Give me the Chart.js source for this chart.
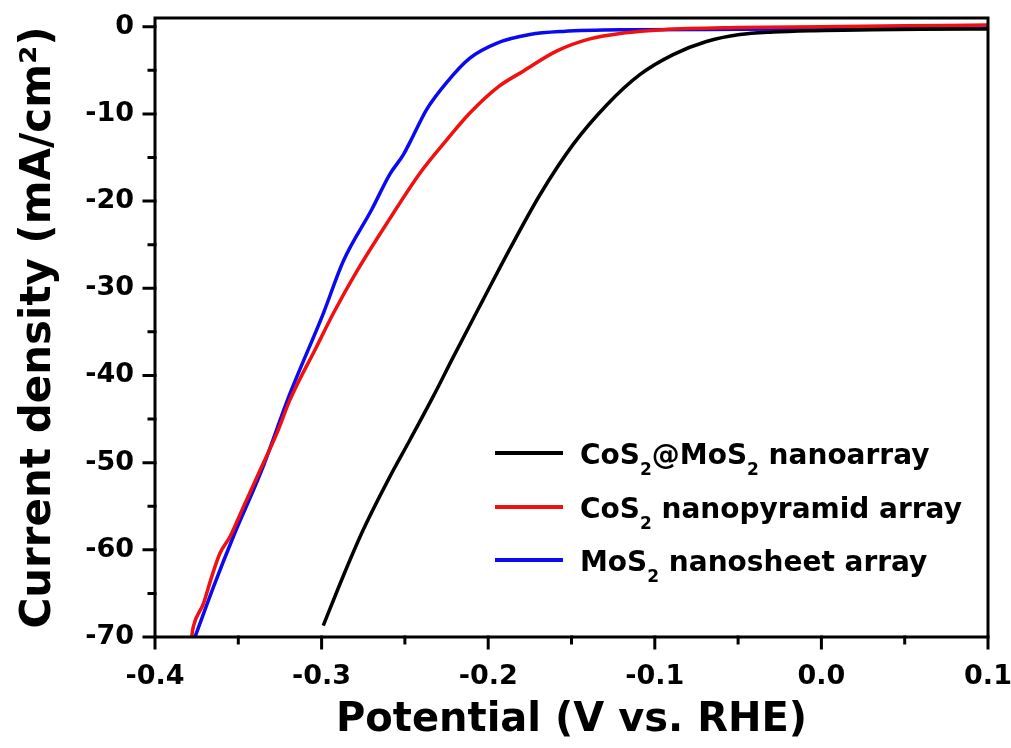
<!DOCTYPE html>
<html>
<head>
<meta charset="utf-8">
<script src="https://cdn.jsdelivr.net/npm/chart.js@4.4.1/dist/chart.umd.min.js"></script>
<style>
  body { margin: 0; background: #fff; }
</style>
</head>
<body>
<canvas id="lsv" width="1011" height="748"></canvas>
<script>
// series names (₂ is drawn as a subscript by the legend plugin)
const seriesNames = ['CoS₂@MoS₂ nanoarray', 'CoS₂ nanopyramid array', 'MoS₂ nanosheet array'];
const seriesColors = ['#000000', '#f01010', '#0a0af0'];

// CoS2@MoS2 nanoarray
const potentialCoMo = [-0.299, -0.287, -0.275, -0.259, -0.247, -0.233, -0.221, -0.203, -0.189, -0.169,
    -0.149, -0.129, -0.109, -0.089, -0.069, -0.049, -0.029, -0.007, 0.03, 0.06, 0.1];
const currentCoMo = [-68.7, -63.0, -57.7, -51.6, -47.4, -42.4, -37.9, -31.3, -26.2, -19.3,
    -13.5, -9.0, -5.5, -3.2, -1.7, -0.9, -0.6, -0.45, -0.35, -0.3, -0.25];

// CoS2 nanopyramid array
const potentialCo = [-0.378, -0.377, -0.371, -0.366, -0.361, -0.355, -0.347, -0.337, -0.327, -0.319,
    -0.303, -0.293, -0.279, -0.259, -0.241, -0.225, -0.211, -0.194, -0.179, -0.159,
    -0.139, -0.119, -0.095, -0.05, 0.0, 0.05, 0.1];
const currentCo = [-70, -68.8, -66.2, -63.1, -60.4, -58.5, -55.1, -50.9, -46.7, -42.8,
    -36.7, -32.9, -28.1, -22.0, -16.8, -13.0, -9.9, -6.9, -5.1, -2.8,
    -1.4, -0.73, -0.34, -0.1, 0.0, 0.1, 0.2];

// MoS2 nanosheet array
const potentialMo = [-0.376, -0.365, -0.353, -0.336, -0.319, -0.299, -0.287, -0.270, -0.259, -0.251,
    -0.245, -0.237, -0.225, -0.211, -0.195, -0.175, -0.155, -0.115, -0.05, 0.0, 0.1];
const currentMo = [-70, -64.3, -58.5, -50.9, -42.1, -32.9, -26.9, -21.0, -16.9, -14.7,
    -12.5, -9.5, -6.4, -3.6, -1.9, -0.9, -0.54, -0.35, -0.3, -0.25, -0.15];

const xMin = -0.4, xMax = 0.1, xStep = 0.05;
const yMin = -70, yMax = 1, yStep = 5;
const xTitle = 'Potential (V vs. RHE)';
const yTitle = 'Current density (mA/cm²)';

function toPoints(xs, ys) {
    return xs.map((x, i) => ({ x: x, y: ys[i] }));
}

const FONT = '"DejaVu Sans", "Liberation Sans", Arial, sans-serif';
Chart.defaults.font.family = FONT;
Chart.defaults.color = '#000';

function isMajorX(v) { return Math.abs(v * 10 - Math.round(v * 10)) < 1e-6; }
function isMajorY(v) { return Math.abs(v % 10) < 1e-6; }

// frame + outward major/minor ticks
const framePlugin = {
    id: 'frame',
    afterDraw(chart) {
        const ctx = chart.ctx;
        const a = chart.chartArea;
        const xs = chart.scales.x, ys = chart.scales.y;
        ctx.save();
        ctx.strokeStyle = '#000';
        ctx.lineWidth = 3;
        ctx.lineCap = 'square';
        ctx.beginPath();
        xs.ticks.forEach(t => {
            const px = xs.getPixelForValue(t.value);
            const len = isMajorX(t.value) ? 11 : 6;
            ctx.moveTo(px, a.bottom);
            ctx.lineTo(px, a.bottom + len);
        });
        ys.ticks.forEach(t => {
            const py = ys.getPixelForValue(t.value);
            const len = isMajorY(t.value) ? 11 : 6;
            ctx.moveTo(a.left, py);
            ctx.lineTo(a.left - len, py);
        });
        ctx.stroke();
        ctx.lineCap = 'butt';
        ctx.strokeRect(a.left, a.top, a.right - a.left, a.bottom - a.top);
        ctx.restore();
    }
};

// legend with subscript 2
const subLegendPlugin = {
    id: 'subLegend',
    afterDraw(chart, args, opts) {
        const ctx = chart.ctx;
        ctx.save();
        chart.data.datasets.forEach((ds, i) => {
            const y = opts.rows[i];
            ctx.strokeStyle = ds.borderColor;
            ctx.lineWidth = 4;
            ctx.beginPath();
            ctx.moveTo(opts.lineX0, y);
            ctx.lineTo(opts.lineX1, y);
            ctx.stroke();

            let x = opts.textX;
            const base = y + 11;
            ctx.fillStyle = '#000';
            ctx.textBaseline = 'alphabetic';
            ds.label.split('₂').forEach((part, k) => {
                if (k > 0) {
                    ctx.font = 'bold 17px ' + FONT;
                    ctx.fillText('2', x, base + 11);
                    x += ctx.measureText('2').width;
                }
                ctx.font = 'bold 28px ' + FONT;
                ctx.fillText(part, x, base);
                x += ctx.measureText(part).width;
            });
        });
        ctx.restore();
    }
};

new Chart(document.getElementById('lsv'), {
    type: 'line',
    data: {
        datasets: [
            { label: seriesNames[0], data: toPoints(potentialCoMo, currentCoMo), borderColor: seriesColors[0] },
            { label: seriesNames[1], data: toPoints(potentialCo, currentCo), borderColor: seriesColors[1] },
            { label: seriesNames[2], data: toPoints(potentialMo, currentMo), borderColor: seriesColors[2] }
        ]
    },
    options: {
        responsive: false,
        animation: false,
        layout: { padding: { top: 18, right: 23, left: 0, bottom: 0 } },
        elements: {
            point: { radius: 0 },
            line: { borderWidth: 3.5, cubicInterpolationMode: 'monotone', fill: false }
        },
        plugins: {
            legend: { display: false },
            tooltip: { enabled: false },
            subLegend: { rows: [453, 507, 560], lineX0: 495, lineX1: 563, textX: 580 }
        },
        scales: {
            x: {
                type: 'linear',
                min: xMin,
                max: xMax,
                grid: { display: true, drawOnChartArea: false, drawTicks: false },
                border: { display: false },
                ticks: {
                    stepSize: xStep,
                    autoSkip: false,
                    maxRotation: 0,
                    padding: 24,
                    includeBounds: false,
                    font: { size: 27, weight: 'bold' },
                    callback: v => isMajorX(v) ? v.toFixed(1) : ''
                },
                title: {
                    display: true,
                    text: xTitle,
                    font: { size: 40, weight: 'bold' },
                    padding: { top: 0, bottom: 3 }
                },
                afterFit(scale) {
                    scale.height = 111;
                    scale.paddingLeft = 0;
                    scale.paddingRight = 0;
                }
            },
            y: {
                type: 'linear',
                min: yMin,
                max: yMax,
                grid: { display: true, drawOnChartArea: false, drawTicks: false },
                border: { display: false },
                ticks: {
                    stepSize: yStep,
                    autoSkip: false,
                    padding: 21,
                    includeBounds: false,
                    font: { size: 27, weight: 'bold' },
                    callback: v => isMajorY(v) ? String(v) : ''
                },
                title: {
                    display: true,
                    text: yTitle,
                    font: { size: 42, weight: 'bold' },
                    padding: { top: 14, bottom: 0 }
                },
                afterFit(scale) {
                    scale.width = 155;
                    scale.paddingTop = 0;
                    scale.paddingBottom = 0;
                }
            }
        }
    },
    plugins: [framePlugin, subLegendPlugin]
});
</script>
</body>
</html>
